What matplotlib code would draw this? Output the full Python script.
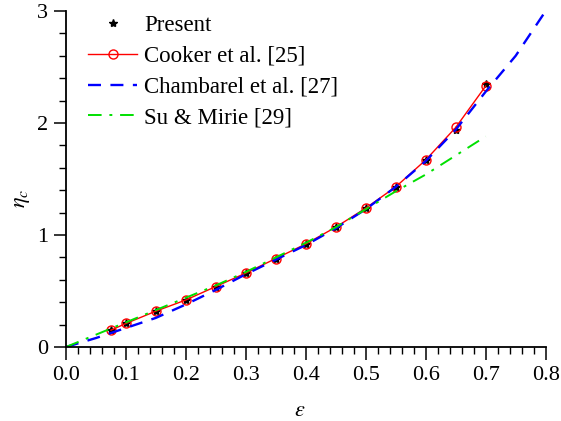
import numpy as np
import matplotlib.pyplot as plt
from matplotlib.ticker import MultipleLocator, FormatStrFormatter

plt.rcParams['font.family'] = 'Liberation Serif'
plt.rcParams['mathtext.fontset'] = 'stix'

# Present / Cooker et al. data points
eps_pts = [0.075, 0.1, 0.15, 0.2, 0.25, 0.3, 0.35, 0.4, 0.45, 0.5, 0.55, 0.6, 0.65, 0.7]
eta_present = [0.15, 0.21, 0.32, 0.42, 0.54, 0.66, 0.79, 0.92, 1.07, 1.24, 1.43, 1.67, 1.94, 2.35]
eta_cooker = [0.15, 0.21, 0.32, 0.42, 0.54, 0.66, 0.79, 0.92, 1.07, 1.24, 1.43, 1.67, 1.96, 2.33]

# Chambarel et al.
eps_ch = [0.0, 0.05, 0.1, 0.15, 0.2, 0.25, 0.3, 0.35, 0.4, 0.45, 0.5, 0.55, 0.6, 0.65, 0.7, 0.75, 0.8]
eta_ch = [0.0, 0.08, 0.17, 0.26, 0.38, 0.51, 0.65, 0.78, 0.91, 1.06, 1.23, 1.43, 1.66, 1.94, 2.28, 2.6, 3.0]

# Su & Mirie
eps_su = [0.0, 0.05, 0.1, 0.15, 0.2, 0.25, 0.3, 0.35, 0.4, 0.45, 0.5, 0.55, 0.6, 0.65, 0.7]
eta_su = [0.0, 0.11, 0.22, 0.33, 0.44, 0.55, 0.67, 0.8, 0.93, 1.07, 1.23, 1.39, 1.54, 1.71, 1.88]

fig = plt.figure(figsize=(5.61, 4.21), dpi=100)
ax = fig.add_axes([0.1176, 0.1758, 0.855, 0.798])

ax.plot(eps_pts, eta_present, linestyle='none', marker='*', color='black',
        markersize=6, label='Present')
ax.plot(eps_pts, eta_cooker, color='red', linewidth=1.0, marker='o', markersize=6.5,
        markerfacecolor='none', markeredgecolor='red', label='Cooker et al. [25]')
ax.plot(eps_ch, eta_ch, color='blue', linewidth=1.7, dashes=(5.5, 4), label='Chambarel et al. [27]')
ax.plot(eps_su, eta_su, color='#00e000', linewidth=1.4, dashes=(7, 4, 1.5, 4), label='Su & Mirie [29]')

ax.set_xlim(0, 0.8)
ax.set_ylim(0, 3)
ax.xaxis.set_major_locator(MultipleLocator(0.1))
ax.xaxis.set_minor_locator(MultipleLocator(0.02))
ax.xaxis.set_major_formatter(FormatStrFormatter('%.1f'))
ax.yaxis.set_major_locator(MultipleLocator(1))
ax.yaxis.set_minor_locator(MultipleLocator(0.2))
ax.tick_params(which='major', direction='out', length=9, width=1.1, labelsize=16)
ax.tick_params(axis='x', which='major', pad=5)
ax.tick_params(axis='y', which='major', pad=4)
ax.tick_params(which='minor', direction='out', length=5, width=1.0)
ax.spines['top'].set_visible(False)
ax.spines['right'].set_visible(False)
ax.spines['left'].set_linewidth(1.3)
ax.spines['bottom'].set_linewidth(1.3)

ax.set_xlabel(r'$\varepsilon$', fontsize=16)
ax.set_ylabel(r'$\eta_c$', fontsize=16)
ax.xaxis.set_label_coords(0.4875, -0.165)
ax.yaxis.set_label_coords(-0.07, 0.443)

ax.legend(loc='upper left', frameon=False, fontsize=16.5, handlelength=2.15,
          handletextpad=0.3, labelspacing=0.42, borderaxespad=0.0,
          bbox_to_anchor=(0.027, 1.015))

plt.savefig('out.png', dpi=100)
